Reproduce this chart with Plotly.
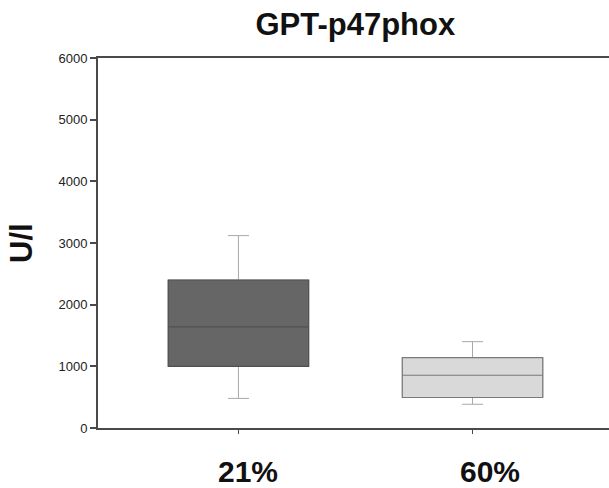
import plotly.graph_objects as go

categories = ["21%", "60%"]
q1 = [1000, 495]
median = [1640, 855]
q3 = [2400, 1140]
lower_whisker = [480, 385]
upper_whisker = [3120, 1400]
fill_colors = ["#666666", "#d9d9d9"]
edge_colors = ["#505050", "#7a7a7a"]
y_ticks = [0, 1000, 2000, 3000, 4000, 5000, 6000]

fig = go.Figure()
for i, cat in enumerate(categories):
    # whiskers (light grey)
    fig.add_trace(go.Box(
        x=[cat], q1=[q1[i]], median=[median[i]], q3=[q3[i]],
        lowerfence=[lower_whisker[i]], upperfence=[upper_whisker[i]],
        width=0.6, whiskerwidth=0.15, fillcolor=fill_colors[i],
        line=dict(color="#a8a8a8", width=1), boxpoints=False,
        showlegend=False, hoverinfo="skip"))
    # box body and median (darker outline)
    fig.add_trace(go.Box(
        x=[cat], q1=[q1[i]], median=[median[i]], q3=[q3[i]],
        lowerfence=[q1[i]], upperfence=[q3[i]],
        width=0.6, whiskerwidth=0, fillcolor=fill_colors[i],
        line=dict(color=edge_colors[i], width=1.2), boxpoints=False,
        showlegend=False))

offsets = [10, 17]
for i, cat in enumerate(categories):
    fig.add_annotation(x=cat, y=0, yref="y", xref="x", text=f"<b>{cat}</b>",
                       showarrow=False, yshift=-43, xshift=offsets[i],
                       font=dict(size=30, color="#111", family="Liberation Sans, Arial"))

# y-axis title as rotated annotation
fig.add_annotation(x=(21 - 98) / 511, y=0.5, xref="paper", yref="paper",
                   text="<b>U/l</b>", textangle=-90, showarrow=False,
                   xanchor="center", yanchor="middle",
                   font=dict(size=31, color="#111", family="Liberation Sans, Arial"))

fig.update_layout(
    width=609, height=488,
    margin=dict(l=98, r=0, t=58, b=60),
    paper_bgcolor="white", plot_bgcolor="white",
    boxmode="overlay",
    font=dict(family="Liberation Sans, Arial", color="#222"),
    title=dict(text="<b>GPT-p47phox</b>", x=(98 + 609) / 2 / 609 + 0.003, xanchor="center",
               y=1 - 24 / 488, yanchor="middle",
               font=dict(size=31, color="#111")),
    xaxis=dict(type="category", range=[-0.6, 1.583], showgrid=False, zeroline=False,
               showline=True, linecolor="#4a4a4a", linewidth=2, mirror=True,
               ticks="outside", ticklen=4, tickcolor="#4a4a4a", tickwidth=1,
               showticklabels=False),
    yaxis=dict(range=[0, 6000], tickvals=y_ticks, showgrid=False, zeroline=False,
               showline=True, linecolor="#4a4a4a", linewidth=2,
               ticks="outside", ticklen=6, tickcolor="#4a4a4a", tickwidth=1.5,
               tickfont=dict(size=13, color="#222")),
)

fig.write_html("out.html")
